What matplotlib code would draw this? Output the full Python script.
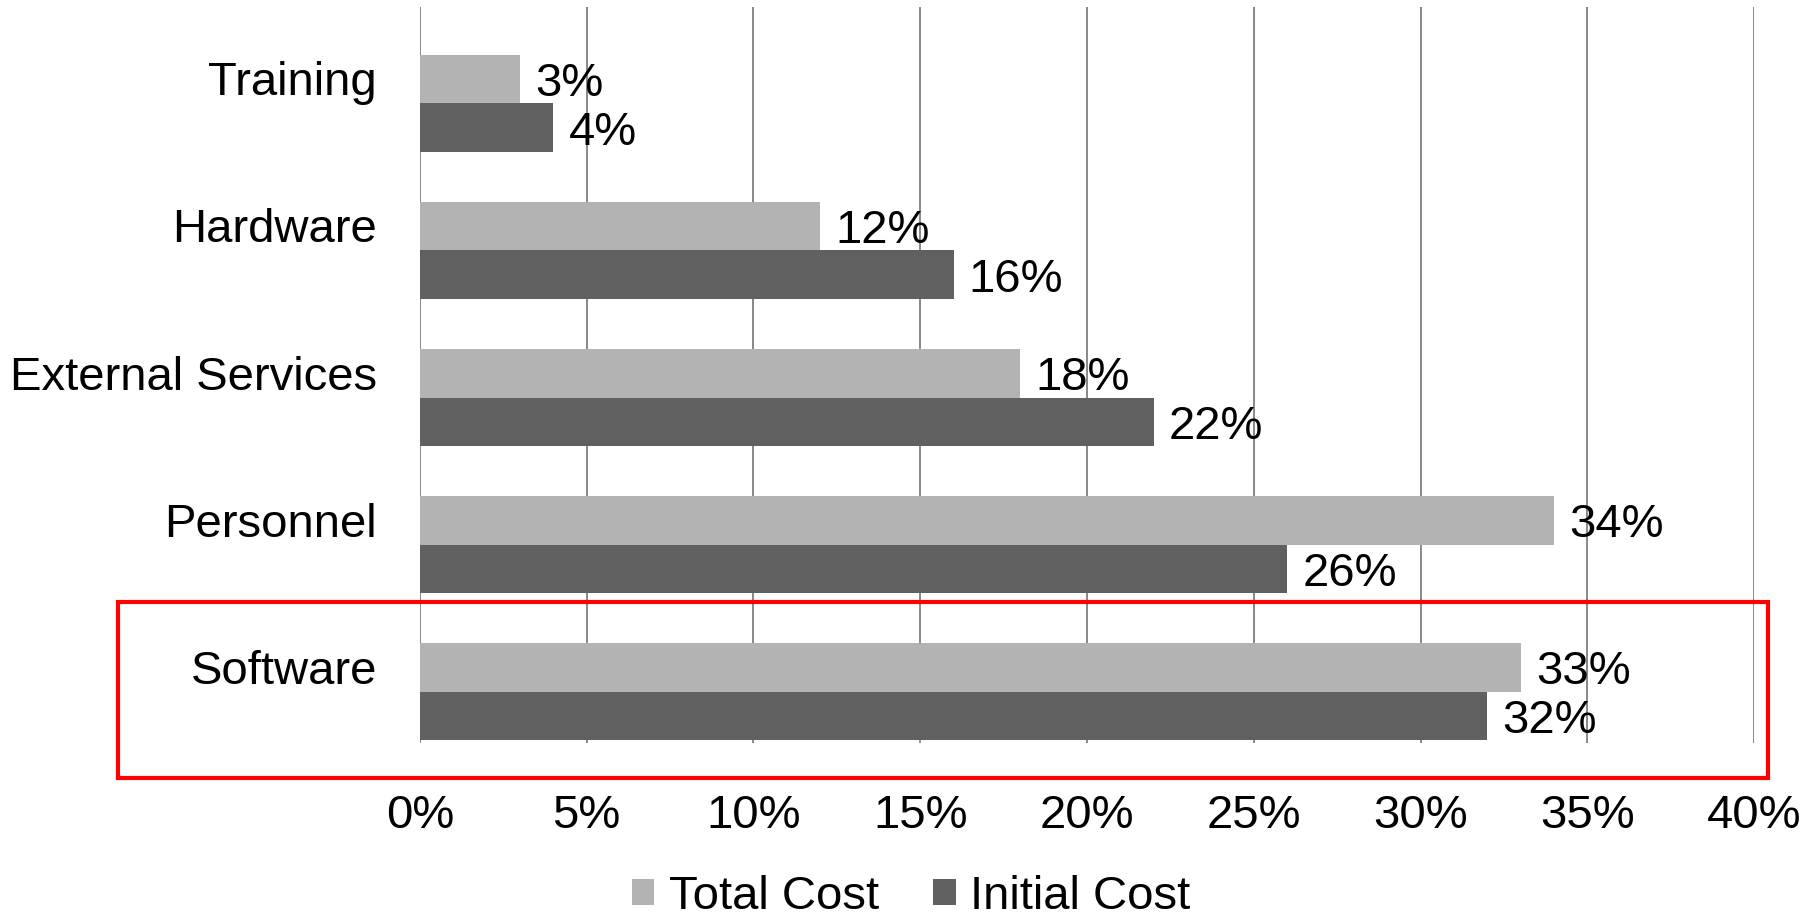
import matplotlib.pyplot as plt
from matplotlib.patches import Rectangle

plt.rcParams['font.family'] = ['Liberation Sans', 'DejaVu Sans']

categories = ['Software', 'Personnel', 'External Services', 'Hardware', 'Training']
total_cost = [33, 34, 18, 12, 3]
initial_cost = [32, 26, 22, 16, 4]
xticks = [0, 5, 10, 15, 20, 25, 30, 35, 40]

light = '#b3b3b3'
dark = '#606060'
fs = 34

fig = plt.figure(figsize=(18.07, 9.22), dpi=100)
ax = fig.add_axes([0.2324, 0.1941, 0.7383, 0.7983])

ypos = list(range(len(categories)))
h = 0.33
ax.barh([y + h / 2 for y in ypos], total_cost, height=h, color=light, label='Total Cost', zorder=2)
ax.barh([y - h / 2 for y in ypos], initial_cost, height=h, color=dark, label='Initial Cost', zorder=2)

# value labels next to each bar
for y, t, i in zip(ypos, total_cost, initial_cost):
    ax.annotate(f'{t}%', (t, y + h / 2), xytext=(11, -3.5), textcoords='offset points',
                va='center', ha='left', fontsize=fs, zorder=3)
    ax.annotate(f'{i}%', (i, y - h / 2), xytext=(11, -3.5), textcoords='offset points',
                va='center', ha='left', fontsize=fs, zorder=3)

ax.set_xlim(0, 40)
ax.set_ylim(-0.35, 4.656)
ax.set_xticks(xticks)
ax.set_xticklabels([f'{v}%' for v in xticks], fontsize=fs)
ax.set_yticks([y + 0.17 for y in ypos])
ax.set_yticklabels(categories, fontsize=fs)
ax.tick_params(axis='x', length=0, pad=37)
ax.tick_params(axis='y', length=0, pad=31)
ax.grid(axis='x', color='#888888', linewidth=1.4, zorder=0)
ax.set_axisbelow(True)
for s in ax.spines.values():
    s.set_visible(False)

# red highlight box around Software
fig.patches.append(Rectangle((118 / 1807, 1 - 778 / 922), 1650 / 1807, 176 / 922,
                             transform=fig.transFigure, fill=False,
                             edgecolor='#ff0000', linewidth=3))

fig.legend(loc='center', bbox_to_anchor=(911 / 1807, 1 - 897 / 922), ncol=2,
           frameon=False, fontsize=fs, handlelength=0.48, handleheight=0.48,
           handletextpad=0.3, columnspacing=1.15, borderpad=0.1)

fig.savefig('out.png', dpi=100)
